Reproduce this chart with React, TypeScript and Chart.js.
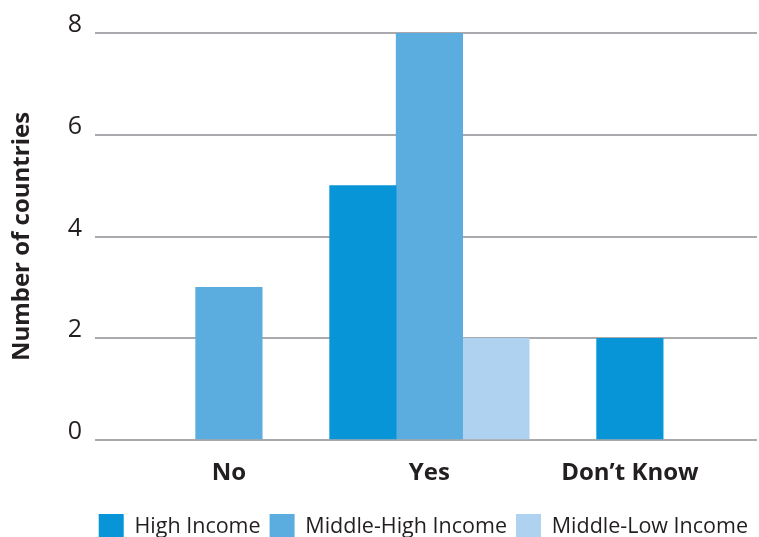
import React, { useEffect, useRef } from 'react';
import { Chart, registerables } from 'chart.js';

Chart.register(...registerables);

const categories = ['No', 'Yes', 'Don\u2019t Know'];
const highIncome: (number | null)[] = [null, 5, 2];
const middleHighIncome: (number | null)[] = [3, 8, null];
const middleLowIncome: (number | null)[] = [null, 2, null];
const seriesNames = ['High Income', 'Middle-High Income', 'Middle-Low Income'];
const yTickValues = [0, 2, 4, 6, 8];

const FONT = "'Open Sans', 'DejaVu Sans', sans-serif";
const TEXT = '#231f20';

export default function App() {
  const ref = useRef<HTMLCanvasElement>(null);

  useEffect(() => {
    const canvas = ref.current;
    if (!canvas) return;
    const toPoints = (arr: (number | null)[]) => arr.map((v, i) => ({ x: i, y: v }));
    const chart = new Chart(canvas, {
      type: 'bar',
      data: {
        datasets: [
          { label: seriesNames[0], data: toPoints(highIncome) as any, backgroundColor: '#0795d7' },
          { label: seriesNames[1], data: toPoints(middleHighIncome) as any, backgroundColor: '#5badDf' },
          { label: seriesNames[2], data: toPoints(middleLowIncome) as any, backgroundColor: '#aed2ef' },
        ],
      },
      options: {
        responsive: false,
        animation: false,
        skipNull: true,
        barThickness: 66.5,
        layout: { padding: { top: 33, right: 2, left: 0, bottom: 0 } },
        plugins: {
          tooltip: { enabled: false },
          legend: {
            position: 'bottom',
            align: 'end',
            labels: {
              boxWidth: 25,
              boxHeight: 25,
              padding: 9,
              color: TEXT,
              font: { family: FONT, size: 21.5 },
            },
          },
        },
        scales: {
          x: {
            type: 'linear',
            min: -0.668,
            max: 2.634,
            offset: false,
            grid: { display: false },
            border: { display: false },
            afterBuildTicks: (s: any) => {
              s.ticks = categories.map((_, i) => ({ value: i }));
            },
            afterFit: (s: any) => {
              s.height = 65;
            },
            ticks: {
              autoSkip: false,
              maxRotation: 0,
              padding: 11,
              color: TEXT,
              font: { family: FONT, size: 24, weight: 'bold' },
              callback: (v: any) => categories[v] ?? '',
            },
          },
          y: {
            min: 0,
            max: 8,
            afterBuildTicks: (s: any) => {
              s.ticks = yTickValues.map((v) => ({ value: v }));
            },
            afterFit: (s: any) => {
              s.width = 95;
            },
            grid: { color: '#aaa9ad', lineWidth: 2, drawTicks: false },
            border: { display: false },
            title: {
              display: true,
              text: 'Number of countries',
              color: TEXT,
              font: { family: FONT, size: 24, weight: 'bold' },
              padding: { top: 8, bottom: 0 },
            },
            ticks: {
              padding: 13,
              labelOffset: -8,
              color: TEXT,
              font: { family: FONT, size: 25 },
            },
          },
        },
      } as any,
    });
    return () => chart.destroy();
  }, []);

  return (
    <div style={{ position: 'fixed', left: 0, top: 0, width: 759, height: 537, overflow: 'hidden', background: '#fff' }}>
      <canvas ref={ref} width={759} height={549} style={{ display: 'block' }} />
    </div>
  );
}
